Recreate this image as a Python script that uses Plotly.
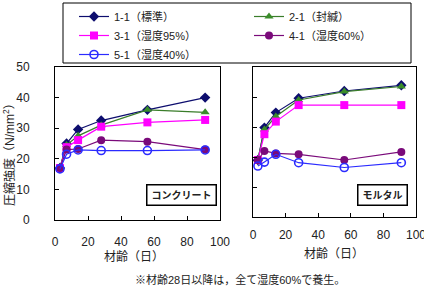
import plotly.graph_objects as go

W, H = 424, 287

ages = [3, 7, 14, 28, 56, 91]

# Concrete (コンクリート)
c_11 = [17.0, 25.0, 29.6, 32.5, 36.0, 40.0]
c_21 = [17.0, 24.5, 27.5, 31.0, 36.0, 35.2]
c_31 = [17.0, 23.8, 26.1, 30.5, 31.9, 32.7]
c_41 = [17.0, 23.0, 23.2, 26.1, 25.6, 23.0]
c_51 = [16.7, 21.5, 22.9, 22.7, 22.7, 22.9]

# Mortar (モルタル)
m_11 = [19.0, 29.8, 34.8, 39.6, 42.0, 43.9]
m_21 = [19.0, 29.2, 33.5, 39.0, 41.8, 43.5]
m_31 = [19.0, 27.6, 31.8, 37.3, 37.3, 37.3]
m_41 = [19.0, 22.0, 21.2, 20.9, 19.0, 21.7]
m_51 = [17.0, 18.3, 20.9, 18.1, 16.5, 18.1]

names = ["1-1（標準）", "2-1（封緘）", "3-1（湿度95%）", "4-1（湿度60%）", "5-1（湿度40%）"]
x_ticks = [0, 20, 40, 60, 80, 100]
y_ticks = [0, 10, 20, 30, 40, 50]

styles = [
    dict(color="#0d0d6e", symbol="diamond", size=8, fill="#0d0d6e", lw=1.2, legend="legend"),
    dict(color="#3a7d2a", symbol="triangle-up", size=8, fill="#3a8c2a", lw=1.2, legend="legend2"),
    dict(color="#ff00ff", symbol="square", size=8, fill="#ff00ff", lw=1.2, legend="legend"),
    dict(color="#7a0a7a", symbol="circle", size=8, fill="#7a0a7a", lw=1.2, legend="legend2"),
    dict(color="#2b2bff", symbol="circle-open", size=8, fill="#2b2bff", lw=1.2, legend="legend"),
]

concrete = [c_11, c_21, c_31, c_41, c_51]
mortar = [m_11, m_21, m_31, m_41, m_51]

fig = go.Figure()
for i, (nm, st) in enumerate(zip(names, styles)):
    mk = dict(symbol=st["symbol"], size=st["size"], color=st["fill"],
              line=dict(color=st["color"], width=1.6 if "open" in st["symbol"] else 0))
    fig.add_trace(go.Scatter(x=ages, y=concrete[i], name=nm, mode="lines+markers",
                             line=dict(color=st["color"], width=st["lw"]), marker=mk,
                             legend=st["legend"], xaxis="x", yaxis="y"))
    fig.add_trace(go.Scatter(x=ages, y=mortar[i], name=nm, mode="lines+markers",
                             line=dict(color=st["color"], width=st["lw"]), marker=mk,
                             showlegend=False, xaxis="x2", yaxis="y2"))

def px_x(p):
    return p / W

def px_y(p):
    return 1 - p / H

font_family = "Liberation Sans, Noto Sans CJK JP, sans-serif"

axis_common = dict(showline=True, linecolor="black", linewidth=1, mirror=True,
                   ticks="inside", ticklen=4, tickcolor="black", showgrid=False,
                   zeroline=False, automargin=False, ticklabeloverflow="allow",
                   tickfont=dict(size=12, color="#222222"))

fig.update_layout(
    width=W, height=H,
    margin=dict(l=0, r=0, t=0, b=0, autoexpand=False),
    paper_bgcolor="white", plot_bgcolor="white",
    font=dict(family=font_family, size=11, color="#222222"),
    xaxis=dict(domain=[px_x(55), px_x(220)], range=[0, 100], tickvals=x_ticks,
               anchor="y", ticklabelstandoff=11, **axis_common),
    yaxis=dict(domain=[px_y(220), px_y(67)], range=[0, 50], tickvals=y_ticks,
               anchor="x", ticklabelstandoff=22, **axis_common),
    xaxis2=dict(domain=[px_x(253), px_x(416)], range=[0, 100], tickvals=x_ticks,
                anchor="y2", ticklabelstandoff=7, **axis_common),
    yaxis2=dict(domain=[px_y(217), px_y(67)], range=[0, 50], tickvals=y_ticks,
                anchor="x2", showticklabels=False, **axis_common),
    legend=dict(x=px_x(74), y=px_y(2), xanchor="left", yanchor="top",
                bgcolor="rgba(0,0,0,0)", font=dict(size=11, color="#222222"),
                orientation="v", tracegroupgap=0),
    legend2=dict(x=px_x(249), y=px_y(2), xanchor="left", yanchor="top",
                 bgcolor="rgba(0,0,0,0)", font=dict(size=11, color="#222222"),
                 orientation="v", tracegroupgap=0),
    showlegend=True,
)

fig.add_shape(type="rect", xref="paper", yref="paper",
              x0=px_x(63), x1=px_x(411), y0=px_y(63), y1=px_y(3),
              line=dict(color="black", width=1), fillcolor="rgba(0,0,0,0)", layer="above")

def note(x, y, text, size=12, **kw):
    fig.add_annotation(xref="paper", yref="paper", x=px_x(x), y=px_y(y),
                       xanchor="center", yanchor="middle", text=text,
                       showarrow=False, font=dict(size=size, color="#222222"), **kw)

note(181, 195, "<b>コンクリート</b>", size=10, bgcolor="white",
     bordercolor="black", borderwidth=1.5, borderpad=4)
note(382, 195, "<b>モルタル</b>", size=10, bgcolor="white",
     bordercolor="black", borderwidth=1.5, borderpad=4)
note(134, 257, "材齢（日）")
note(334, 254, "材齢（日）")
note(9, 152, "圧縮強度（N/mm<sup>2</sup>）", textangle=-90)
note(240, 279, "※材齢28日以降は，全て湿度60%で養生。", size=11)

fig.write_html("out.html")
